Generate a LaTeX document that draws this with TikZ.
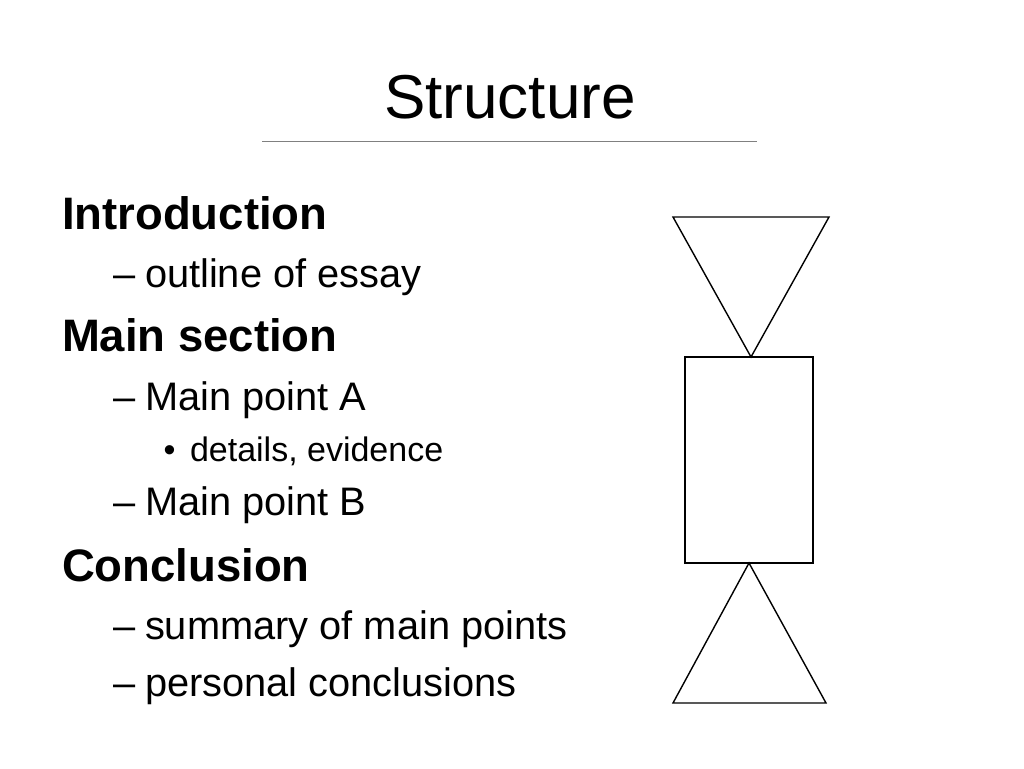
\documentclass[tikz,border=0pt]{standalone}
\usepackage{fontspec}
\setmainfont{Liberation Sans}
\begin{document}
\begin{tikzpicture}[x=1pt,y=-1pt,
  txt/.style={anchor=base west,inner sep=0pt,outer sep=0pt},
  lvlone/.style={txt,font=\fontsize{45.5}{54}\selectfont\bfseries},
  lvltwo/.style={txt,font=\fontsize{39.8}{48}\selectfont},
  lvlthree/.style={txt,font=\fontsize{34}{41}\selectfont},
  outlineshape/.style={draw=black,line width=1.4pt,line join=miter}]
\useasboundingbox[fill=white] (0,0) rectangle (1024,768);
% title
\node (title) [anchor=base,inner sep=0pt,font=\fontsize{62}{74}\selectfont] at (510,118) {Structure};
\coordinate (rl) at (262,141.5);
\coordinate (rr) at (757,141.5);
\draw[draw=gray,line width=1.5pt] (rl) -- (rr);
% outline text
\node (intro) [lvlone] at (62,229) {Introduction};
\node (d1) [lvltwo] at (113,287) {–};
\node (outl) [lvltwo] at (145,287) {outline of essay};
\node (mains) [lvlone] at (62,351.5) {Main section};
\node (d2) [lvltwo] at (113,410) {–};
\node (mpa) [lvltwo] at (145,410) {Main point A};
\node (b1) [lvlthree] at (163.5,461) {•};
\node (det) [lvlthree] at (190,461) {details, evidence};
\node (d3) [lvltwo] at (113,515.5) {–};
\node (mpb) [lvltwo] at (145,515.5) {Main point B};
\node (concl) [lvlone] at (62,581) {Conclusion};
\node (d4) [lvltwo] at (113,639) {–};
\node (summ) [lvltwo] at (145,639) {summary of main points};
\node (d5) [lvltwo] at (113,696.5) {–};
\node (pers) [lvltwo] at (145,696.5) {personal conclusions};
% shapes
\coordinate (t1a) at (673,217);
\coordinate (t1b) at (829,217);
\coordinate (t1c) at (751,357);
\coordinate (r1) at (685,357);
\coordinate (r2) at (813,563);
\coordinate (t2a) at (749,563);
\coordinate (t2b) at (826,703);
\coordinate (t2c) at (673,703);
\draw[outlineshape] (t1a) -- (t1b) -- (t1c) -- cycle;
\draw[outlineshape] (r1) rectangle (r2);
\draw[outlineshape] (t2a) -- (t2b) -- (t2c) -- cycle;
\end{tikzpicture}
\end{document}
